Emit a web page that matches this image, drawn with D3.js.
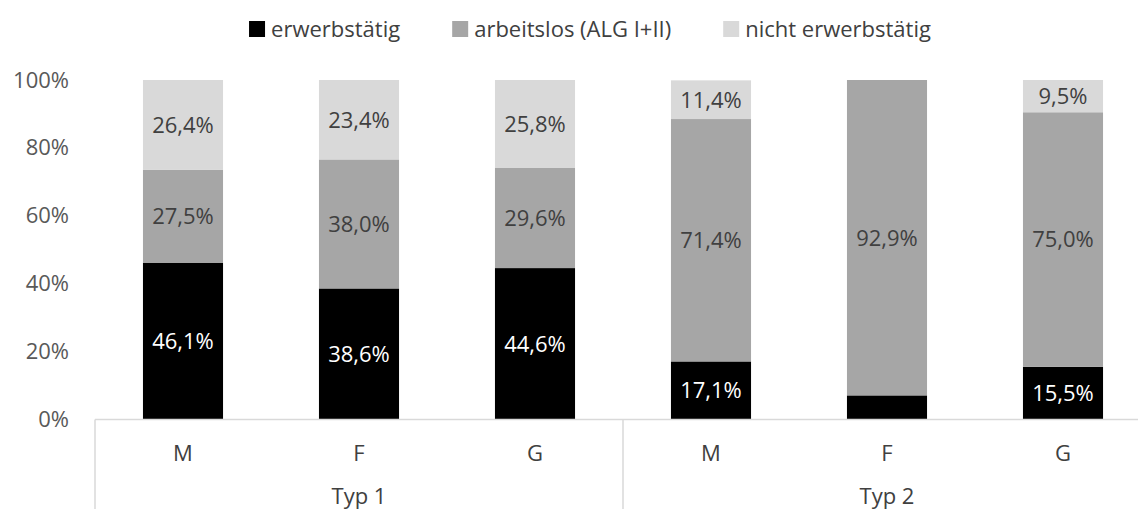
<!DOCTYPE html>
<html>
<head>
<meta charset="utf-8">
<script src="https://cdn.jsdelivr.net/npm/d3@7"></script>
<style>
  body { margin: 0; background: #fff; overflow: hidden; }
  svg { display: block; font-family: "Open Sans", sans-serif; }
</style>
</head>
<body>
<div id="chart"></div>
<script>
// data
const groups = ["Typ 1", "Typ 2"];
const cats = ["M", "F", "G"];
const series = ["erwerbstätig", "arbeitslos (ALG I+II)", "nicht erwerbstätig"];
const colors = ["#000000", "#a6a6a6", "#d9d9d9"];
const erwerbstaetig = [46.1, 38.6, 44.6, 17.1, 7.1, 15.5];
const arbeitslos = [27.5, 38.0, 29.6, 71.4, 92.9, 75.0];
const nichtErwerbstaetig = [26.4, 23.4, 25.8, 11.4, 0, 9.5];
const yTicks = [0, 0.2, 0.4, 0.6, 0.8, 1];

function main() {
  let width = 1138, height = 509;
  let margin = {top: 80, left: 95, bottom: 89.5};
  let plotRight = 1151;   // plot area runs a bit past the right edge
  let fs = 22;

  let rows = [];
  groups.forEach(function(g, gi) {
    cats.forEach(function(c, ci) {
      let i = gi * cats.length + ci;
      let r = {key: g + "|" + c, group: g, cat: c};
      r[series[0]] = erwerbstaetig[i];
      r[series[1]] = arbeitslos[i];
      r[series[2]] = nichtErwerbstaetig[i];
      rows.push(r);
    });
  });

  const svg = d3.select("#chart").append("svg")
    .attr("width", width)
    .attr("height", height);

  let x = d3.scaleBand()
    .domain(rows.map(d => d.key))
    .range([margin.left, plotRight])
    .paddingInner(0.545)
    .paddingOuter(0.2725);

  let xg = d3.scaleBand()
    .domain(groups)
    .range([margin.left, plotRight]);

  let y = d3.scaleLinear()
    .domain([0, 100])
    .range([height - margin.bottom, margin.top]);

  let stacked = d3.stack().keys(series)(rows);
  let de = d3.formatLocale({decimal: ",", thousands: ".", grouping: [3], currency: ["", "€"]});
  let fmt = de.format(".1f");

  // bars
  let layers = svg.append("g")
    .selectAll("g")
    .data(stacked)
    .join("g")
      .attr("fill", (d, i) => colors[i]);

  layers.selectAll("rect")
    .data(d => d)
    .join("rect")
      .attr("x", d => x(d.data.key))
      .attr("width", x.bandwidth())
      .attr("y", d => y(d[1]))
      .attr("height", d => y(d[0]) - y(d[1]));

  // value labels (Excel hides the tiny 7,1% one)
  layers.selectAll("text")
    .data((d, i) => d.map(v => ({v: v, s: i})))
    .join("text")
      .filter(d => (d.v[1] - d.v[0]) >= 8)
      .attr("x", d => x(d.v.data.key) + x.bandwidth() / 2)
      .attr("y", d => y((d.v[0] + d.v[1]) / 2))
      .attr("dy", "0.36em")
      .attr("text-anchor", "middle")
      .attr("font-size", fs)
      .attr("fill", d => d.s == 0 ? "#ffffff" : "#404040")
      .text(d => fmt(d.v[1] - d.v[0]) + "%");

  // y axis
  let yAxis = g => g
    .attr("transform", `translate(${margin.left - 26},0)`)
    .call(d3.axisLeft(y.copy().domain([0, 1])).tickValues(yTicks).tickFormat(d3.format(".0%")).tickSize(0).tickPadding(0))
    .call(g => g.select(".domain").remove())
    .call(g => g.selectAll("text")
      .attr("font-family", "Open Sans, sans-serif")
      .attr("font-size", fs)
      .attr("fill", "#595959"));
  svg.append("g").call(yAxis);

  // x axis: base line and group separators
  let base = y(0);
  let axisG = svg.append("g").attr("stroke", "#d9d9d9").attr("stroke-width", 1.5);
  axisG.append("line")
    .attr("x1", margin.left).attr("x2", plotRight)
    .attr("y1", base).attr("y2", base);
  axisG.selectAll("line.sep")
    .data(groups)
    .join("line")
      .attr("class", "sep")
      .attr("x1", d => xg(d))
      .attr("x2", d => xg(d))
      .attr("y1", base)
      .attr("y2", height);

  svg.append("g")
    .selectAll("text")
    .data(rows)
    .join("text")
      .attr("x", d => x(d.key) + x.bandwidth() / 2)
      .attr("y", 453)
      .attr("dy", "0.36em")
      .attr("text-anchor", "middle")
      .attr("font-size", fs)
      .attr("fill", "#404040")
      .text(d => d.cat);

  svg.append("g")
    .selectAll("text")
    .data(groups)
    .join("text")
      .attr("x", d => xg(d) + xg.bandwidth() / 2)
      .attr("y", 496)
      .attr("dy", "0.36em")
      .attr("text-anchor", "middle")
      .attr("font-size", fs)
      .attr("fill", "#404040")
      .text(d => d);

  // legend
  let legend = svg.append("g");
  let items = legend.selectAll("g")
    .data(series)
    .join("g");
  items.append("rect")
    .attr("y", 21)
    .attr("width", 16)
    .attr("height", 16)
    .attr("fill", (d, i) => colors[i]);
  items.append("text")
    .attr("x", 22)
    .attr("y", 29)
    .attr("dy", "0.36em")
    .attr("font-size", fs)
    .attr("fill", "#404040")
    .text(d => d);
  let gap = 52;
  let pos = 0;
  items.each(function() {
    let w = this.getBBox().width;
    d3.select(this).attr("transform", `translate(${pos},0)`);
    pos += w + gap;
  });
  let total = pos - gap;
  legend.attr("transform", `translate(${590 - total / 2},0)`);
}

main();
</script>
</body>
</html>
